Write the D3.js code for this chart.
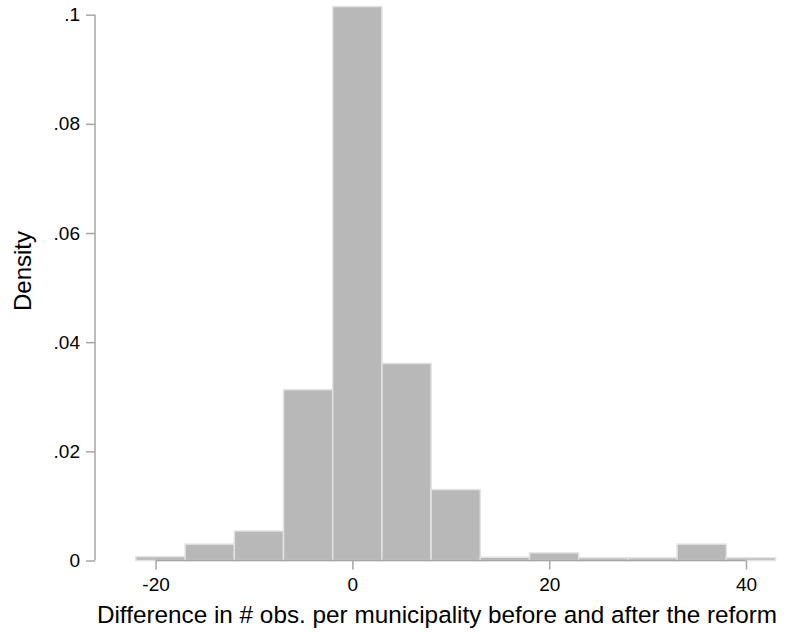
<!DOCTYPE html>
<html>
<head>
<meta charset="utf-8">
<script src="https://cdn.jsdelivr.net/npm/d3@7"></script>
<style>
  body { margin: 0; background: #fff; }
  text { font-family: "Liberation Sans", Arial, Helvetica, sans-serif; fill: #000; }
  .axis path, .axis line { stroke: #a6a6a6; stroke-width: 1.5; }
</style>
</head>
<body>
<svg id="chart" width="786" height="632"></svg>
<script>
// histogram bins (left edge, width 5) and their densities
var binStarts = [-22, -17, -12, -7, -2, 3, 8, 13, 18, 23, 28, 33, 38];
var binWidth = 5;
var densities = [0.0007, 0.003, 0.0054, 0.0313, 0.1015, 0.0361, 0.013, 0.0006, 0.0014, 0.0005, 0.0005, 0.003, 0.0005];
var xTicks = [-20, 0, 20, 40];
var yTicks = [0, 0.02, 0.04, 0.06, 0.08, 0.1];
var yTickLabels = ["0", ".02", ".04", ".06", ".08", ".1"];

var bins = binStarts.map(function (s, i) { return { x0: s, x1: s + binWidth, d: densities[i] }; });

var svg = d3.select("#chart");

var x = d3.scaleLinear().domain([-20, 40]).range([155.6, 746]);
var y = d3.scaleLinear().domain([0, 0.1]).range([560.5, 14.7]);

// bars
svg.append("g").selectAll("rect")
  .data(bins)
  .enter().append("rect")
  .attr("x", function (b) { return x(b.x0); })
  .attr("width", function (b) { return x(b.x1) - x(b.x0); })
  .attr("y", function (b) { return y(b.d); })
  .attr("height", function (b) { return y(0) - y(b.d); })
  .attr("fill", "#b8b8b8")
  .attr("stroke", "#e2e2e2")
  .attr("stroke-width", 1.5);

// y axis
var yAxis = svg.append("g")
  .attr("class", "axis")
  .attr("transform", "translate(95,0)")
  .call(d3.axisLeft(y).tickValues(yTicks)
    .tickFormat(function (d, i) { return yTickLabels[i]; })
    .tickSizeOuter(0).tickSize(9).tickPadding(6));
yAxis.selectAll("text").attr("font-size", 19).style("font-family", "Liberation Sans, Arial, sans-serif");

// x axis
var xAxis = svg.append("g")
  .attr("class", "axis")
  .attr("transform", "translate(0,560.5)")
  .call(d3.axisBottom(x).tickValues(xTicks)
    .tickFormat(function (d) { return String(d); })
    .tickSizeOuter(0).tickSize(9).tickPadding(8));
xAxis.selectAll("text").attr("font-size", 19).style("font-family", "Liberation Sans, Arial, sans-serif");
xAxis.selectAll(".domain").attr("d", "M" + x(-20) + ",0H" + x(40));
yAxis.selectAll(".domain").attr("d", "M0," + y(0) + "V" + y(0.1));

// axis titles
svg.append("text")
  .attr("transform", "translate(31,271) rotate(-90)")
  .attr("text-anchor", "middle")
  .attr("font-size", 24)
  .text("Density");

svg.append("text")
  .attr("x", 437)
  .attr("y", 623)
  .attr("text-anchor", "middle")
  .attr("font-size", 24.3)
  .text("Difference in # obs. per municipality before and after the reform");
</script>
</body>
</html>
